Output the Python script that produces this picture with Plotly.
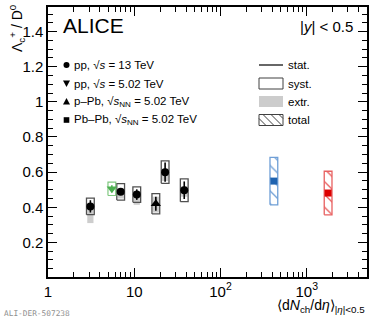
import plotly.graph_objects as go
import numpy as np

# ---------------- data ----------------
pp13_x = [3.1, 6.96, 10.7, 22.8, 38.0]
pp13_y = [0.405, 0.488, 0.472, 0.600, 0.497]
pp13_stat = [0.035, 0.018, 0.03, 0.055, 0.05]
pp13_syst = [0.047, 0.047, 0.044, 0.064, 0.065]
pp13_extr_lo = [0.31, 0.45, 0.414, 0.55, 0.46]
pp13_extr_hi = [0.42, 0.50, 0.49, 0.62, 0.52]

pp5_x = [5.5]
pp5_y = [0.505]
pp5_stat = [0.02]
pp5_syst = [0.038]

ppb_x = [17.8]
ppb_y = [0.42]
ppb_stat = [0.04]
ppb_syst = [0.058]
ppb_extr_lo = [0.37]
ppb_extr_hi = [0.46]

pbpb_x = [416.0, 1770.0]
pbpb_y = [0.549, 0.481]
pbpb_total = [0.135, 0.124]
pbpb_colors = ["#1f63b0", "#dd0000"]
pbpb_box_colors = ["#6f9fd6", "#e86060"]

x_tickvals = [1, 10, 100, 1000]
x_ticktext = ["1", "10", "10<sup>2</sup>", "10<sup>3</sup>"]
y_tickvals = [0.2, 0.4, 0.6, 0.8, 1.0, 1.2, 1.4]
y_ticktext = ["0.2", "0.4", "0.6", "0.8", "1", "1.2", "1.4"]

# ---------------- style ----------------
HW = 0.045  # half width of boxes in decades
FONT = "Liberation Sans, Arial, sans-serif"

def box_xy(x, lo, hi, hw=HW):
    xl = x / 10 ** hw
    xr = x * 10 ** hw
    return [xl, xr, xr, xl, xl], [lo, lo, hi, hi, lo]

fig = go.Figure()

# extrapolation (gray) boxes
for x, lo, hi in list(zip(pp13_x, pp13_extr_lo, pp13_extr_hi)) + list(zip(ppb_x, ppb_extr_lo, ppb_extr_hi)):
    bx, by = box_xy(x, lo, hi, HW * 0.8)
    fig.add_trace(go.Scatter(x=bx, y=by, mode="lines", fill="toself",
                             fillcolor="rgba(200,200,200,0.9)", line=dict(width=0),
                             hoverinfo="skip", showlegend=False))

# syst boxes black series
for x, y, s in list(zip(pp13_x, pp13_y, pp13_syst)) + list(zip(ppb_x, ppb_y, ppb_syst)):
    bx, by = box_xy(x, y - s, y + s)
    fig.add_trace(go.Scatter(x=bx, y=by, mode="lines",
                             line=dict(color="#505050", width=1.3),
                             hoverinfo="skip", showlegend=False))
for x, y, s in zip(pp5_x, pp5_y, pp5_syst):
    bx, by = box_xy(x, y - s, y + s)
    fig.add_trace(go.Scatter(x=bx, y=by, mode="lines",
                             line=dict(color="#80c880", width=1.2),
                             hoverinfo="skip", showlegend=False))

# Pb-Pb total (hatched) boxes
for x, y, t, c in zip(pbpb_x, pbpb_y, pbpb_total, pbpb_box_colors):
    bx, by = box_xy(x, y - t, y + t)
    fig.add_trace(go.Scatter(x=bx, y=by, mode="lines", fill="toself",
                             fillpattern=dict(shape="\\", fgcolor=c, bgcolor="white",
                                              size=9, solidity=0.15, fillmode="replace"),
                             line=dict(color=c, width=1.3),
                             hoverinfo="skip", showlegend=False))

# markers
fig.add_trace(go.Scatter(x=pp13_x, y=pp13_y, mode="markers",
                         marker=dict(symbol="circle", size=8, color="black"),
                         error_y=dict(type="data", array=pp13_stat, color="black",
                                      thickness=1.6, width=0),
                         showlegend=False))
fig.add_trace(go.Scatter(x=pp5_x, y=pp5_y, mode="markers",
                         marker=dict(symbol="triangle-down", size=9, color="#4caf50"),
                         error_y=dict(type="data", array=pp5_stat, color="#4caf50",
                                      thickness=1.6, width=0),
                         showlegend=False))
fig.add_trace(go.Scatter(x=ppb_x, y=ppb_y, mode="markers",
                         marker=dict(symbol="triangle-up", size=9, color="black"),
                         error_y=dict(type="data", array=ppb_stat, color="black",
                                      thickness=1.6, width=0),
                         showlegend=False))
fig.add_trace(go.Scatter(x=pbpb_x, y=pbpb_y, mode="markers",
                         marker=dict(symbol="square", size=7, color=pbpb_colors),
                         showlegend=False))

# ---------------- layout ----------------
L, R, T, B = 48, 7, 7, 42
W, H = 374, 319
PW, PH = W - L - R, H - T - B

def px(x):
    return (x - L) / PW

def py(y):
    return (H - B - y) / PH

minor_x = [m * 10 ** k for k in range(0, 4) for m in range(2, 10) if m * 10 ** k < 5000]

fig.update_layout(
    width=W, height=H,
    margin=dict(l=L, r=R, t=T, b=B, autoexpand=False),
    paper_bgcolor="white", plot_bgcolor="white",
    font=dict(family=FONT, color="black"),
    showlegend=False,
    xaxis=dict(type="log", range=[0, np.log10(5000)],
               tickvals=x_tickvals, ticktext=x_ticktext,
               ticks="inside", ticklen=9, tickwidth=1, tickcolor="black",
               showline=True, linecolor="black", linewidth=1.5, mirror="ticks",
               showgrid=False, zeroline=False, automargin=False,
               tickfont=dict(size=15),
               minor=dict(tickvals=minor_x, ticks="inside", ticklen=5,
                          tickcolor="black", showgrid=False)),
    yaxis=dict(range=[0.003, 1.54],
               tickvals=y_tickvals, ticktext=y_ticktext,
               ticks="inside", ticklen=9, tickwidth=1, tickcolor="black",
               showline=True, linecolor="black", linewidth=1.5, mirror="ticks",
               showgrid=False, zeroline=False, automargin=False,
               tickfont=dict(size=15),
               minor=dict(dtick=0.05, ticks="inside", ticklen=5,
                          tickcolor="black", showgrid=False)),
)

ann = []
ann.append(dict(text="ALICE", x=px(61), y=py(25.5), xref="paper", yref="paper",
                xanchor="left", yanchor="middle", showarrow=False,
                font=dict(size=21, family=FONT)))
ann.append(dict(text="|<i>y</i>| &lt; 0.5", x=px(355), y=py(26), xref="paper", yref="paper",
                xanchor="right", yanchor="middle", showarrow=False,
                font=dict(size=15, family=FONT)))

left_labels = ["pp, √<i>s</i> = 13 TeV",
               "pp, √<i>s</i> = 5.02 TeV",
               "p–Pb, √<i>s</i><sub>NN</sub> = 5.02 TeV",
               "Pb–Pb, √<i>s</i><sub>NN</sub> = 5.02 TeV"]
right_labels = ["stat.", "syst.", "extr.", "total"]
rows = [65, 83.5, 101.5, 120]
for lab, yy in zip(left_labels, rows):
    ann.append(dict(text=lab, x=px(72), y=py(yy), xref="paper", yref="paper",
                    xanchor="left", yanchor="middle", showarrow=False,
                    font=dict(size=11.5, family=FONT)))
for lab, yy in zip(right_labels, rows):
    ann.append(dict(text=lab, x=px(286), y=py(yy), xref="paper", yref="paper",
                    xanchor="left", yanchor="middle", showarrow=False,
                    font=dict(size=11.5, family=FONT)))

ann.append(dict(text="Λ<sub>c</sub><sup>+</sup> / D<sup>0</sup>", textangle=-90,
                x=px(17), y=py(2), xref="paper", yref="paper",
                xanchor="center", yanchor="top", showarrow=False,
                font=dict(size=14, family=FONT)))
ann.append(dict(text="⟨d<i>N</i><sub>ch</sub>/d<i>η</i>⟩<sub>|<i>η</i>|&lt;0.5</sub>",
                x=px(367), y=py(306), xref="paper", yref="paper",
                xanchor="right", yanchor="middle", showarrow=False,
                font=dict(size=14, family=FONT)))
ann.append(dict(text="ALI-DER-507238", x=px(2), y=py(313), xref="paper", yref="paper",
                xanchor="left", yanchor="middle", showarrow=False,
                font=dict(size=7.8, family="DejaVu Sans Mono, monospace", color="#909090")))
fig.update_layout(annotations=ann)

# legend symbols (shapes in paper coords)
shapes = []
cx = 66.5
r = 3
y0 = rows[0]
shapes.append(dict(type="circle", xref="paper", yref="paper",
                   x0=px(cx - r), x1=px(cx + r), y0=py(y0 + r), y1=py(y0 - r),
                   fillcolor="black", line=dict(width=0)))
y1 = rows[1]
shapes.append(dict(type="path", xref="paper", yref="paper",
                   path=f"M {px(cx-3.5)} {py(y1-3)} L {px(cx+3.5)} {py(y1-3)} L {px(cx)} {py(y1+3.5)} Z",
                   fillcolor="black", line=dict(width=0)))
y2 = rows[2]
shapes.append(dict(type="path", xref="paper", yref="paper",
                   path=f"M {px(cx-3.5)} {py(y2+3)} L {px(cx+3.5)} {py(y2+3)} L {px(cx)} {py(y2-3.5)} Z",
                   fillcolor="black", line=dict(width=0)))
y3 = rows[3]
shapes.append(dict(type="rect", xref="paper", yref="paper",
                   x0=px(cx - 2.8), x1=px(cx + 2.8), y0=py(y3 + 2.8), y1=py(y3 - 2.8),
                   fillcolor="black", line=dict(width=0)))
# right legend keys
kx0, kx1 = 259, 283
shapes.append(dict(type="line", xref="paper", yref="paper",
                   x0=px(kx0), x1=px(kx1), y0=py(rows[0]), y1=py(rows[0]),
                   line=dict(color="black", width=1.2)))
shapes.append(dict(type="rect", xref="paper", yref="paper",
                   x0=px(kx0), x1=px(kx1), y0=py(rows[1] + 5.5), y1=py(rows[1] - 5.5),
                   fillcolor="white", line=dict(color="#404040", width=1)))
shapes.append(dict(type="rect", xref="paper", yref="paper",
                   x0=px(kx0), x1=px(kx1), y0=py(rows[2] + 5.5), y1=py(rows[2] - 5.5),
                   fillcolor="#cccccc", line=dict(width=0)))
shapes.append(dict(type="rect", xref="paper", yref="paper",
                   x0=px(kx0), x1=px(kx1), y0=py(rows[3] + 5.5), y1=py(rows[3] - 5.5),
                   fillcolor="white", line=dict(color="#404040", width=1)))
# hatch lines in 'total' key
top, bot = rows[3] - 5.5, rows[3] + 5.5
for start in [kx0 - 4, kx0 + 4, kx0 + 12, kx0 + 20]:
    xa, ya = start, top
    xb, yb = start + 11, bot
    if xa < kx0:
        ya = top + (kx0 - xa)
        xa = kx0
    if xb > kx1:
        yb = bot - (xb - kx1)
        xb = kx1
    if xb > xa:
        shapes.append(dict(type="line", xref="paper", yref="paper",
                           x0=px(xa), x1=px(xb), y0=py(ya), y1=py(yb),
                           line=dict(color="#404040", width=1)))
fig.update_layout(shapes=shapes)

fig.write_html("out.html", config={"displayModeBar": False},
               post_script="document.body.style.margin='0';document.body.style.padding='0';")
